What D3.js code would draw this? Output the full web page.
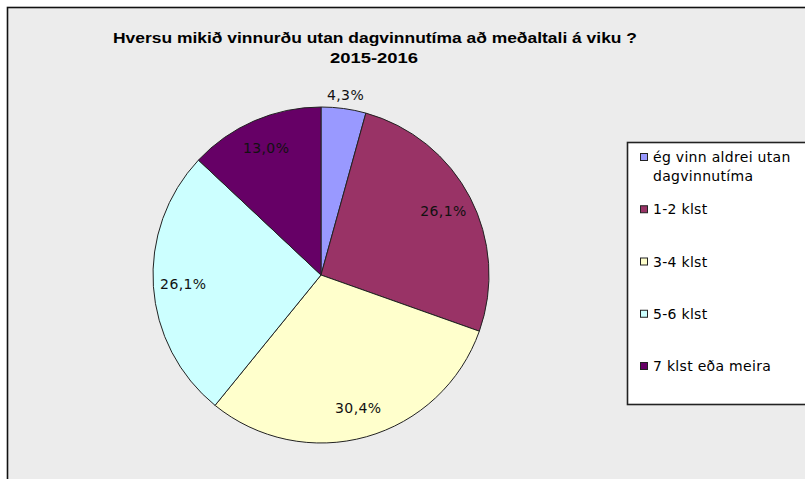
<!DOCTYPE html>
<html>
<head>
<meta charset="utf-8">
<script src="https://d3js.org/d3.v7.min.js"></script>
<style>
body { margin: 0; background: #fff; }
.title { font-family: "Liberation Sans Narrow", "Arial Narrow", "Liberation Sans", Arial, sans-serif; font-weight: bold; font-size: 15px; fill: #000; }
.lbl { font-family: "DejaVu Sans", Tahoma, sans-serif; font-size: 14px; letter-spacing: 0.4px; fill: #111; }
.leg { font-family: "DejaVu Sans", Tahoma, sans-serif; font-size: 14px; letter-spacing: 0.3px; fill: #000; }
</style>
</head>
<body>
<div id="chart"></div>
<script>
// data
var categories = ["ég vinn aldrei utan dagvinnutíma", "1-2 klst", "3-4 klst", "5-6 klst", "7 klst eða meira"];
var legendLines = [["ég vinn aldrei utan", "dagvinnutíma"], ["1-2 klst"], ["3-4 klst"], ["5-6 klst"], ["7 klst eða meira"]];
var values = [4.3, 26.1, 30.4, 26.1, 13.0];
var labels = ["4,3%", "26,1%", "30,4%", "26,1%", "13,0%"];
var colors = ["#9999ff", "#993366", "#ffffcc", "#ccffff", "#660066"];

var W = 805, H = 479;
var cx = 321, cy = 275, radius = 168;

var svg = d3.select("#chart").append("svg")
    .attr("width", W)
    .attr("height", H);

// chart area frame
svg.append("rect")
    .attr("x", 7.5).attr("y", 7.5)
    .attr("width", W + 20).attr("height", H + 20)
    .attr("fill", "#ececec")
    .attr("stroke", "#111")
    .attr("stroke-width", 1.6);

// title
var title = svg.append("text").attr("class", "title").attr("text-anchor", "middle");
title.append("tspan").attr("x", 375).attr("y", 43)
    .attr("textLength", 524).attr("lengthAdjust", "spacingAndGlyphs")
    .text("Hversu mikið vinnurðu utan dagvinnutíma að meðaltali á viku ?");
title.append("tspan").attr("x", 374).attr("y", 63)
    .attr("textLength", 88).attr("lengthAdjust", "spacingAndGlyphs")
    .text("2015-2016");

var pie = d3.pie().sort(null).value(function(d) { return d; });
var arcs = pie(values);

var arc = d3.arc().innerRadius(0).outerRadius(radius);
var labelArc = d3.arc().innerRadius(138).outerRadius(138);
var outerArc = d3.arc().innerRadius(182).outerRadius(182);

var g = svg.append("g").attr("transform", "translate(" + cx + "," + cy + ")");

g.selectAll(".slice")
    .data(arcs)
    .enter().append("path")
    .attr("class", "slice")
    .attr("d", arc)
    .attr("fill", function(d, i) { return colors[i]; })
    .attr("stroke", "#222")
    .attr("stroke-width", 1);

g.selectAll(".lbl")
    .data(arcs)
    .enter().append("text")
    .attr("class", "lbl")
    .attr("text-anchor", "middle")
    .attr("dy", "0.35em")
    .attr("transform", function(d) {
      // small slice gets its label outside
      var c = (d.endAngle - d.startAngle < 0.4) ? outerArc.centroid(d) : labelArc.centroid(d);
      return "translate(" + c + ")";
    })
    .text(function(d, i) { return labels[i]; });

// legend
var legend = svg.append("g");
legend.append("rect")
    .attr("x", 627.5).attr("y", 142.5)
    .attr("width", 200).attr("height", 262)
    .attr("fill", "#fff")
    .attr("stroke", "#222")
    .attr("stroke-width", 1.6);

var legY = d3.scalePoint().domain(d3.range(categories.length)).range([157, 366]);

var items = legend.selectAll(".item")
    .data(categories)
    .enter().append("g")
    .attr("class", "item")
    .attr("transform", function(d, i) { return "translate(640," + legY(i) + ")"; });

items.append("rect")
    .attr("x", 0.5).attr("y", -3.5)
    .attr("width", 7).attr("height", 7)
    .attr("fill", function(d, i) { return colors[i]; })
    .attr("stroke", "#222")
    .attr("stroke-width", 1);

items.append("text")
    .attr("class", "leg")
    .attr("x", 13)
    .selectAll("tspan")
    .data(function(d, i) { return legendLines[i]; })
    .enter().append("tspan")
    .attr("x", 13)
    .attr("y", function(d, j) { return 5 + j * 19; })
    .text(function(d) { return d; });
</script>
</body>
</html>
